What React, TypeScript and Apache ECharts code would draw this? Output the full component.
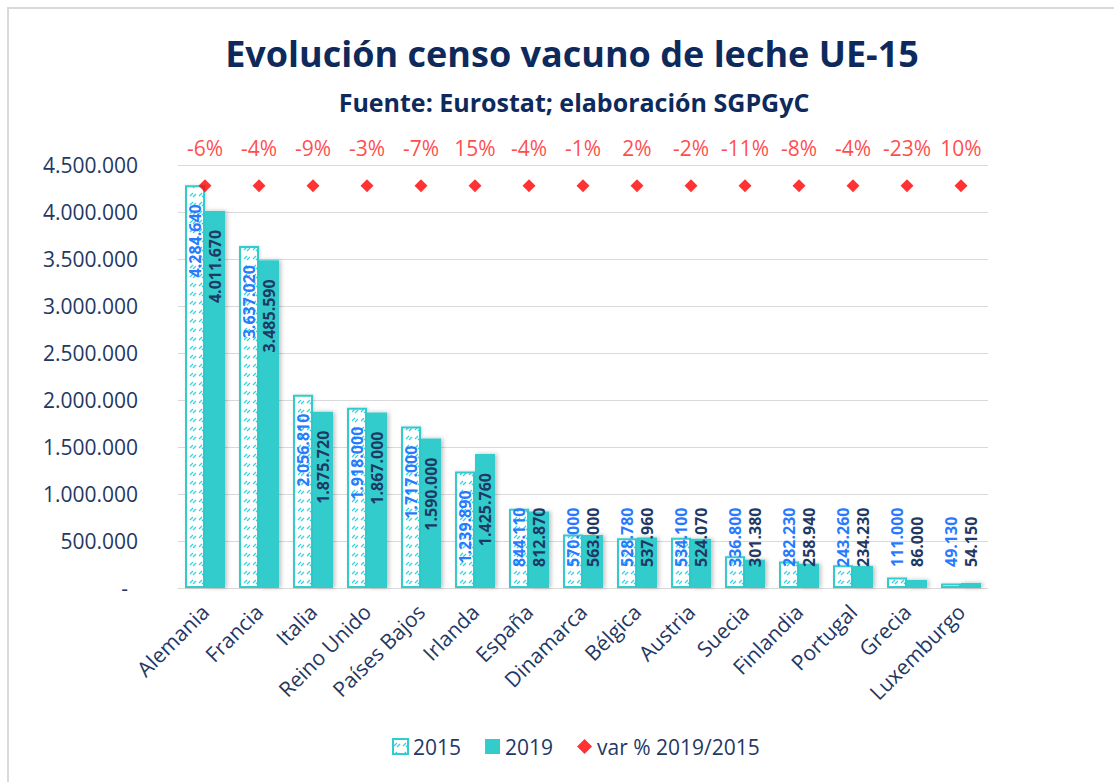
import React, { useEffect, useRef } from "react";
import * as echarts from "echarts";

const categories = [
  "Alemania", "Francia", "Italia", "Reino Unido", "Países Bajos", "Irlanda", "España",
  "Dinamarca", "Bélgica", "Austria", "Suecia", "Finlandia", "Portugal", "Grecia", "Luxemburgo",
];
const values2015 = [4284640, 3637020, 2056810, 1918000, 1717000, 1239890, 844110, 570000, 528780, 534100, 336800, 282230, 243260, 111000, 49130];
const values2019 = [4011670, 3485590, 1875720, 1867000, 1590000, 1425760, 812870, 563000, 537960, 524070, 301380, 258940, 234230, 86000, 54150];
const varPct = [-6, -4, -9, -3, -7, 15, -4, -1, 2, -2, -11, -8, -4, -23, 10];
const markerLevel = 4280000;
const yMax = 4500000;
const yInterval = 500000;

const FONT = "Open Sans";
const NAVY = "#1F3864";
const TEAL = "#33CCCC";

const fmt = (v: number) => String(Math.round(v)).replace(/\B(?=(\d{3})+(?!\d))/g, ".");

const PLOT_H = 423;

function barData(vals: number[]) {
  return vals.map((v) => {
    const h = (v / yMax) * PLOT_H;
    const txt = fmt(v);
    const len = txt.length * 8;
    const fits = h >= 20 + len + 20;
    return {
      value: v,
      label: fits
        ? { position: "insideTop", distance: 19, align: "right", verticalAlign: "middle" }
        : { position: "insideBottom", distance: 21, align: "left", verticalAlign: "middle" },
    };
  });
}

function makeHatch(): HTMLCanvasElement {
  const c = document.createElement("canvas");
  c.width = 9;
  c.height = 9;
  const g = c.getContext("2d")!;
  g.fillStyle = "#FFFFFF";
  g.fillRect(0, 0, 9, 9);
  g.strokeStyle = "#2ED3E0";
  g.lineWidth = 1.2;
  g.beginPath();
  g.moveTo(1, 7);
  g.lineTo(4, 4);
  g.moveTo(4, 8);
  g.lineTo(7, 5);
  g.stroke();
  return c;
}

export default function App() {
  const ref = useRef<HTMLDivElement>(null);
  useEffect(() => {
    if (!ref.current) return;
    const chart = echarts.init(ref.current, null, { renderer: "svg" });
    const hatch = makeHatch();
    const labelCommon = {
      show: true,
      rotate: 90,
      fontFamily: FONT,
      fontSize: 16,
      fontWeight: "bold",
      formatter: (p: any) => fmt(p.value),
    };
    chart.setOption({
      animation: false,
      backgroundColor: "#fff",
      textStyle: { fontFamily: FONT },
      title: [
        {
          text: "Evolución censo vacuno de leche UE-15",
          left: 567,
          top: 30,
          textAlign: "center",
          textStyle: { fontFamily: FONT, fontSize: 36, fontWeight: "bold", color: "#0E2A5C" },
        },
        {
          text: "Fuente: Eurostat; elaboración SGPGyC",
          left: 569,
          top: 84,
          textAlign: "center",
          textStyle: { fontFamily: FONT, fontSize: 25, fontWeight: "bold", color: "#0E2A5C" },
        },
      ],
      graphic: [
        {
          type: "rect",
          shape: { x: 8, y: 8, width: 1300, height: 1000 },
          style: { fill: "none", stroke: "#D9D9D9", lineWidth: 2 },
          silent: true,
        },
      ],
      legend: {
        bottom: 20,
        left: 387,
        orient: "horizontal",
        itemWidth: 15,
        itemHeight: 15,
        itemGap: 24,
        textStyle: { fontFamily: FONT, fontSize: 21, color: NAVY },
        data: [
          { name: "2015", icon: "rect" },
          { name: "2019", icon: "rect" },
          { name: "var % 2019/2015", icon: "diamond" },
        ],
      },
      grid: { left: 178, right: 126, top: 165, bottom: 194, containLabel: false },
      xAxis: {
        type: "category",
        data: categories,
        axisLine: { lineStyle: { color: "#D9D9D9", width: 1 } },
        axisTick: { show: false },
        axisLabel: { rotate: 45, interval: 0, margin: 20, fontFamily: FONT, fontSize: 21, color: NAVY },
      },
      yAxis: {
        type: "value",
        min: 0,
        max: yMax,
        interval: yInterval,
        axisLine: { show: false },
        axisTick: { show: false },
        splitLine: { lineStyle: { color: "#D9D9D9", width: 1 } },
        axisLabel: {
          margin: 40,
          fontFamily: FONT,
          fontSize: 21,
          color: NAVY,
          formatter: (v: number) => (v === 0 ? "{z|-}" : fmt(v)),
          rich: { z: { fontFamily: FONT, fontSize: 21, color: NAVY, padding: [0, 10, 0, 0] } },
        },
      },
      series: [
        {
          name: "2015",
          type: "bar",
          barWidth: 20,
          barGap: "0%",
          data: barData(values2015),
          itemStyle: {
            color: { image: hatch, repeat: "repeat" },
            borderColor: TEAL,
            borderWidth: 2,
            shadowColor: "rgba(0,0,0,0.18)",
            shadowBlur: 3,
            shadowOffsetX: 1,
          },
          label: { ...labelCommon, color: "#2979FF" },
        },
        {
          name: "2019",
          type: "bar",
          barWidth: 20,
          data: barData(values2019),
          itemStyle: { color: TEAL, shadowColor: "rgba(0,0,0,0.25)", shadowBlur: 4, shadowOffsetX: 2 },
          label: { ...labelCommon, color: NAVY },
        },
        {
          name: "var % 2019/2015",
          type: "scatter",
          symbol: "diamond",
          symbolSize: 13,
          itemStyle: { color: "#FF0000" },
          data: varPct.map((p, i) => ({ value: [categories[i], markerLevel] })),
          label: {
            show: true,
            position: "top",
            distance: 21,
            fontFamily: FONT,
            fontSize: 21,
            color: "#FF1A1A",
            formatter: (p: any) => `${varPct[p.dataIndex]}%`,
          },
          z: 5,
        },
      ],
    });
    return () => chart.dispose();
  }, []);
  return (
    <div
      ref={ref}
      style={{ position: "fixed", left: 0, top: 0, width: 1114, height: 782, background: "#fff" }}
    />
  );
}
